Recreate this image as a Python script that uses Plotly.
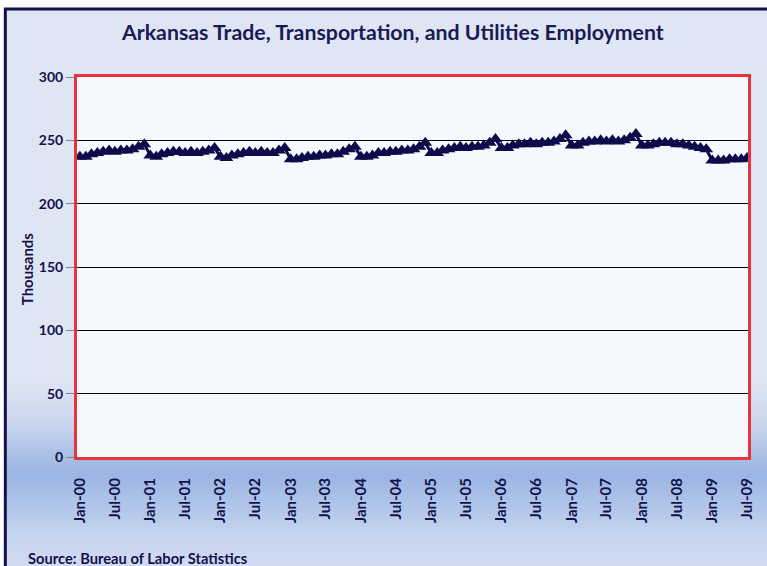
import plotly.graph_objects as go
import pandas as pd

# ---- data (thousands, monthly, Jan-2000 .. Jul-2009) ----
v2000 = [237, 237, 239, 240, 241, 242, 241, 242, 242, 243, 245, 247]
v2001 = [238, 237, 239, 240, 241, 241, 240, 241, 240, 241, 242, 244]
v2002 = [237, 236, 238, 239, 240, 241, 240, 241, 240, 240, 242, 244]
v2003 = [235, 235, 236, 237, 237, 238, 238, 239, 239, 241, 243, 245]
v2004 = [237, 237, 238, 240, 240, 241, 241, 242, 242, 243, 245, 248]
v2005 = [240, 240, 242, 243, 244, 245, 244, 245, 245, 246, 248, 251]
v2006 = [244, 244, 246, 247, 247, 248, 247, 248, 248, 249, 251, 254]
v2007 = [246, 246, 248, 249, 249, 250, 249, 250, 249, 250, 252, 255]
v2008 = [246, 246, 247, 248, 248, 248, 247, 247, 246, 245, 244, 243]
v2009 = [234, 234, 234, 235, 235, 235, 236]

values = v2000 + v2001 + v2002 + v2003 + v2004 + v2005 + v2006 + v2007 + v2008 + v2009
months = pd.date_range("2000-01-01", periods=len(values), freq="MS")

tick_dates = pd.date_range("2000-01-01", "2009-07-01", freq="6MS")
tick_labels = ["Jan-00", "Jul-00", "Jan-01", "Jul-01", "Jan-02", "Jul-02", "Jan-03", "Jul-03",
               "Jan-04", "Jul-04", "Jan-05", "Jul-05", "Jan-06", "Jul-06", "Jan-07", "Jul-07",
               "Jan-08", "Jul-08", "Jan-09", "Jul-09"]
y_ticks = [0, 50, 100, 150, 200, 250, 300]

title_text = "Arkansas Trade, Transportation, and Utilities Employment"
source_text = "Source: Bureau of Labor Statistics"

# ---- layout geometry (pixels) ----
W, H = 767, 566
L, R, T, B = 77, 751, 77, 457
PW, PH = R - L, B - T


def px(x):
    return (x - L) / PW


def py(y):
    return (B - y) / PH


NAVY = "#14124a"
FONT = "Lato"

fig = go.Figure()
fig.add_trace(go.Scatter(
    x=months, y=values, mode="lines+markers",
    line=dict(color="#0e0b4b", width=3),
    marker=dict(symbol="triangle-up", size=12, color="#0e0b4b"),
    showlegend=False,
))

shapes = []
# frame interior base colour
shapes.append(dict(type="rect", xref="paper", yref="paper", layer="below",
                   x0=px(5), x1=px(W + 20), y0=py(H + 20), y1=py(9),
                   fillcolor="#dee5f3", line=dict(width=0)))

# vertical gradient strips in the lower part
stops = [(380, (222, 229, 243)), (420, (205, 216, 239)), (455, (170, 191, 230)),
         (475, (156, 181, 226)), (500, (172, 194, 233)), (535, (198, 212, 239)),
         (566, (208, 219, 242))]


def col_at(y):
    for (y0, c0), (y1, c1) in zip(stops[:-1], stops[1:]):
        if y0 <= y <= y1:
            t = (y - y0) / (y1 - y0)
            return tuple(int(round(a + (b - a) * t)) for a, b in zip(c0, c1))
    return stops[-1][1]


step = 3
for y in range(380, H + 3, step):
    r, g, b = col_at(y + step / 2)
    shapes.append(dict(type="rect", xref="paper", yref="paper", layer="below",
                       x0=px(6), x1=px(W + 20), y0=py(y + step), y1=py(y),
                       fillcolor=f"rgb({r},{g},{b})", line=dict(width=0)))

# plot area background
shapes.append(dict(type="rect", xref="paper", yref="paper", layer="below",
                   x0=0, x1=1, y0=0, y1=1, fillcolor="#f5f8fc", line=dict(width=0)))
# outer frame
shapes.append(dict(type="rect", xref="paper", yref="paper", layer="below",
                   x0=px(5), x1=px(W + 30), y0=py(H + 30), y1=py(9),
                   fillcolor="rgba(0,0,0,0)", line=dict(color="#14104a", width=3)))

fig.update_layout(
    width=W, height=H,
    margin=dict(l=L, r=W - R, t=T, b=H - B),
    paper_bgcolor="white",
    plot_bgcolor="#f5f8fc",
    shapes=shapes,
    font=dict(family=FONT, color=NAVY),
    annotations=[
        dict(text="<b>" + title_text + "</b>", xref="paper", yref="paper",
             x=px(394), y=py(32), xanchor="center", yanchor="middle", showarrow=False,
             font=dict(family=FONT, size=21.3, color="#1b1a55")),
        dict(text="<b>Thousands</b>", xref="paper", yref="paper",
             x=px(27), y=py(269), xanchor="center", yanchor="middle", showarrow=False,
             textangle=-90, font=dict(family=FONT, size=15, color=NAVY)),
        dict(text="<b>" + source_text + "</b>", xref="paper", yref="paper",
             x=px(26), y=py(558), xanchor="left", yanchor="middle", showarrow=False,
             font=dict(family=FONT, size=14.7, color=NAVY)),
    ],
)

fig.update_xaxes(
    type="date",
    range=[pd.Timestamp("1999-12-17"), pd.Timestamp("2009-07-06")],
    tickvals=list(tick_dates), ticktext=["<b>" + t + "</b>" for t in tick_labels],
    tickangle=-90,
    tickfont=dict(family=FONT, size=15, color=NAVY),
    ticks="", ticklabelstandoff=12,
    showgrid=False, zeroline=False,
    showline=True, mirror=True, linecolor="#e8323c", linewidth=3,
)
fig.update_yaxes(
    range=[0, 300],
    tickvals=y_ticks,
    ticktext=["<b>" + str(v) + "</b>" for v in y_ticks],
    tickfont=dict(family=FONT, size=14, color=NAVY),
    ticks="outside", ticklen=8, tickcolor="#888", tickwidth=1,
    showgrid=True, gridcolor="black", gridwidth=1, zeroline=False,
    showline=True, mirror=True, linecolor="#e8323c", linewidth=3,
)

fig.write_html("out.html", config={"displayModeBar": False},
               post_script="document.body.style.margin='0';document.body.style.overflow='hidden';")
